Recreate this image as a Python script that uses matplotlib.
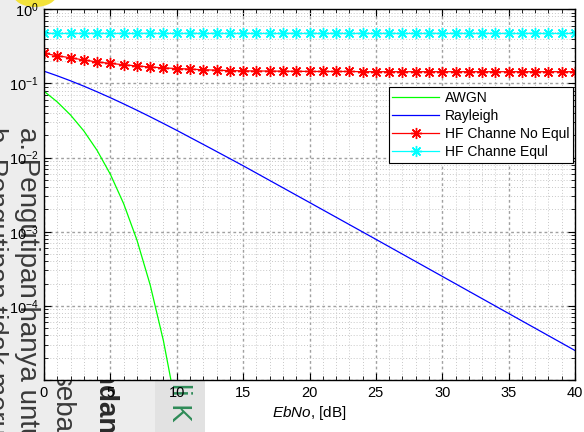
import numpy as np
import matplotlib
matplotlib.use("Agg")
import matplotlib.pyplot as plt
from matplotlib.ticker import MultipleLocator, LogLocator, NullFormatter
from matplotlib.patches import Rectangle, Ellipse

plt.rcParams['font.family'] = ['Liberation Sans', 'DejaVu Sans']
plt.rcParams['mathtext.fontset'] = 'custom'
plt.rcParams['mathtext.rm'] = 'Liberation Sans'
plt.rcParams['mathtext.it'] = 'Liberation Sans:italic'

# BER curves (Eb/No in dB)
ebno_awgn = [0, 1, 2, 3, 4, 5, 6, 7, 8, 9, 10]
ber_awgn = [0.0786, 0.0563, 0.0375, 0.0229, 0.0125, 0.00595,
            0.00239, 7.73e-4, 1.91e-4, 3.36e-5, 3.87e-6]

ebno_ray = [0, 1, 2, 3, 4, 5, 6, 7, 8, 9, 10, 12.5, 15, 20, 25, 30, 35, 40]
ber_ray = [0.1464, 0.1267, 0.1085, 0.0919, 0.0771, 0.0642, 0.0530, 0.0435,
           0.0355, 0.0288, 0.0233, 0.01349, 0.00776, 0.00248, 7.9e-4,
           2.5e-4, 7.9e-5, 2.5e-5]

ebno_hf = list(range(0, 41))
ber_hf_noeq = [0.255, 0.236, 0.222, 0.207, 0.195, 0.186, 0.179, 0.172,
               0.167, 0.162, 0.159, 0.156, 0.153, 0.151, 0.149, 0.148,
               0.147, 0.147, 0.146, 0.146, 0.145, 0.145, 0.145, 0.145,
               0.144, 0.144, 0.144, 0.144, 0.144, 0.144, 0.144, 0.144,
               0.144, 0.144, 0.144, 0.144, 0.144, 0.144, 0.144, 0.144, 0.144]
ber_hf_eq = [0.483] * 41

legend_labels = ['AWGN', 'Rayleigh', 'HF Channe No Equl', 'HF Channe Equl']
xticks = [0, 5, 10, 15, 20, 25, 30, 35, 40]
yticks = [1e-5, 1e-4, 1e-3, 1e-2, 1e-1, 1e0]
ytick_labels = ['', r'$10^{-4}$', r'$10^{-3}$', r'$10^{-2}$', r'$10^{-1}$', r'$10^{0}$']

W, H = 584, 432
fig = plt.figure(figsize=(W / 100, H / 100), dpi=100)
fig.patch.set_facecolor('white')


def fx(x):
    return x / W


def fy(y):
    return 1 - y / H


# page background behind the figure
fig.patches.append(Rectangle((0, 0), fx(44), 1, transform=fig.transFigure,
                             facecolor='#ededed', edgecolor='none', zorder=-3))
fig.patches.append(Rectangle((0, 0), fx(155), 1 - fy(380), transform=fig.transFigure,
                             facecolor='#ededed', edgecolor='none', zorder=-3))
fig.patches.append(Rectangle((fx(155), 0), fx(50), 1 - fy(380), transform=fig.transFigure,
                             facecolor='#e2e2e2', edgecolor='none', zorder=-3))
fig.patches.append(Ellipse((fx(35), fy(-6)), fx(44), 1 - fy(26), transform=fig.transFigure,
                           facecolor='#f3e23a', edgecolor='none', zorder=-2))

page_kw = dict(rotation=-90, rotation_mode='anchor', ha='left', va='baseline',
               fontsize=20, zorder=-1)
fig.text(fx(20), fy(127), 'a. Pengutipan hanya untuk kepentingan pendidikan',
         color='#3a3a3a', **page_kw)
fig.text(fx(-12), fy(127), 'b. Pengutipan tidak merugikan kepentingan',
         color='#3a3a3a', **page_kw)
fig.text(fx(55), fy(372), 'sebagian', color='#3a3a3a', **page_kw)
fig.text(fx(97), fy(349), 'Undang', color='#2a2a2a', fontweight='bold', **page_kw)
fig.text(fx(172), fy(383), 'li K', color='#2e8b57', **page_kw)

ax = fig.add_axes([fx(44), fy(380), fx(575 - 44), fy(9.3) - fy(380)])
ax.set_facecolor('white')

# 8-armed asterisk marker
star = (8, 2, 0)

ax.semilogy(ebno_awgn, ber_awgn, color='#00ff00', lw=0.9, label=legend_labels[0])
ax.semilogy(ebno_ray, ber_ray, color='#0000ff', lw=0.9, label=legend_labels[1])
ax.semilogy(ebno_hf, ber_hf_noeq, color='#ff0000', lw=0.9, marker=star,
            markersize=8, markeredgewidth=1.0, label=legend_labels[2])
ax.semilogy(ebno_hf, ber_hf_eq, color='#00ffff', lw=0.9, marker=star,
            markersize=8, markeredgewidth=1.0, label=legend_labels[3])

ax.set_xlim(0, 40)
ax.set_ylim(1e-5, 1)
ax.set_xticks(xticks)
ax.xaxis.set_minor_locator(MultipleLocator(1))
ax.set_yticks(yticks)
ax.set_yticklabels(ytick_labels)
ax.yaxis.set_minor_locator(LogLocator(base=10, subs=np.arange(2, 10)))
ax.yaxis.set_minor_formatter(NullFormatter())

ax.grid(which='major', color='#a0a0a0', linestyle=(0, (2, 2)), linewidth=1.0)
ax.grid(which='minor', color='#c8c8c8', linestyle=(0, (1, 2)), linewidth=0.7)
ax.set_axisbelow(True)

ax.tick_params(which='both', direction='in', top=True, right=True, colors='black')
ax.tick_params(which='major', length=5, width=0.8, labelsize=10.5, pad=4)
ax.tick_params(which='minor', length=3, width=0.6)
for s in ax.spines.values():
    s.set_linewidth(1.0)
    s.set_color('black')

ax.set_xlabel(r'$\it{EbNo}$, [dB]', fontsize=11, labelpad=3)

leg = ax.legend(loc='upper right', bbox_to_anchor=(0.996, 0.79), borderaxespad=0,
                fancybox=False, edgecolor='black', framealpha=1, fontsize=10,
                handlelength=3.4, handletextpad=0.4, labelspacing=0.3, borderpad=0.25)
leg.get_frame().set_linewidth(0.8)

fig.savefig('out.png', dpi=100, facecolor=fig.get_facecolor())
